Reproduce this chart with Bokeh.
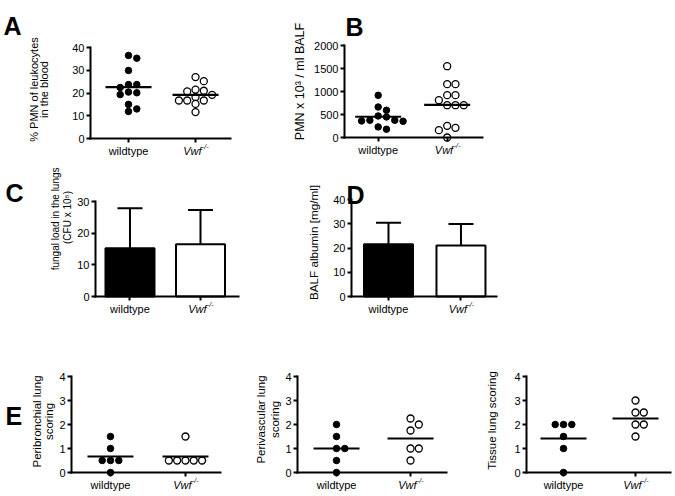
import numpy as np
from bokeh.plotting import figure
from bokeh.models import FixedTicker, Range1d
from bokeh.core.properties import value
from bokeh.layouts import row, column
from bokeh.embed import file_html
from bokeh.resources import INLINE

FONT = "Liberation Sans"

# ---------------- data ----------------
group_names = ["wildtype", "Vwf"]
group_sup = "-/-"

# A: % PMN of leukocytes in the blood
blood_pmn_wt = [36.5, 35.3, 29.9, 23.7, 23.7, 22.4, 20.4, 20.1, 19.3, 15.0, 13.0, 11.9]
blood_pmn_ko = [27.0, 25.2, 21.5, 21.0, 20.7, 19.2, 18.2, 16.7, 16.7, 16.7, 15.2, 11.6]
blood_ticks = [0, 10, 20, 30, 40]

# B: PMN x 10^3 / ml BALF
balf_pmn_wt = [917, 663, 592, 468, 446, 375, 375, 360, 353, 230, 180]
balf_pmn_ko = [1550, 1159, 1159, 920, 920, 811, 702, 702, 702, 253, 210, 159, 0]
balf_ticks = [0, 500, 1000, 1500, 2000]

# C: fungal load (mean, SD)
fungal_mean = [15.2, 16.5]
fungal_sd = [12.7, 10.8]
fungal_ticks = [0, 10, 20, 30]

# D: BALF albumin (mean, SD)
albumin_mean = [21.5, 21.0]
albumin_sd = [8.9, 8.9]
albumin_ticks = [0, 10, 20, 30, 40]

# E: lung scoring
peribronchial_wt = [1.5, 1.0, 0.5, 0.5, 0.5, 0.0]
peribronchial_ko = [1.5, 0.5, 0.5, 0.5, 0.5, 0.5]
perivascular_wt = [2.0, 1.5, 1.0, 1.0, 0.5, 0.0]
perivascular_ko = [2.25, 2.0, 1.75, 1.0, 1.0, 0.5]
tissue_wt = [2.0, 2.0, 2.0, 1.5, 1.0, 0.0]
tissue_ko = [3.0, 2.5, 2.5, 2.0, 2.0, 1.5]
score_ticks = [0, 1, 2, 3, 4]


# ---------------- helpers ----------------
class Geo:
    """Page geometry of one panel (all in page pixels)."""

    def __init__(self, ox, oy, w, h, L, R, T, B, xa, xb, ymax):
        self.ox, self.oy, self.w, self.h = ox, oy, w, h
        self.PL, self.PR, self.PT, self.PB = L - ox, R - ox, T - oy, B - oy
        self.xa, self.xb, self.ymax = xa, xb, ymax
        self.px_x = (self.PR - self.PL) / (xb - xa)
        self.px_y = (self.PB - self.PT) / ymax

    def X(self, sx):  # page x -> data x
        return self.xa + (sx - self.ox - self.PL) / self.px_x

    def Y(self, sy):  # page y -> data y
        return (self.PB - (sy - self.oy)) / self.px_y


def make_fig(g, yticks, titles, letter=None):
    x_start = g.xa - g.PL / g.px_x
    x_end = g.xb + (g.w - g.PR) / g.px_x
    y_start = -(g.h - g.PB) / g.px_y
    y_end = g.ymax + g.PT / g.px_y
    p = figure(width=g.w, height=g.h, x_range=Range1d(x_start, x_end),
               y_range=Range1d(y_start, y_end), output_backend="svg",
               toolbar_location=None, min_border=0)
    p.outline_line_color = None
    p.grid.visible = False
    p.background_fill_color = "white"
    p.border_fill_color = "white"
    for ax in (p.xaxis[0], p.yaxis[0]):
        ax.axis_line_width = 2
        ax.axis_line_color = "black"
        ax.axis_line_cap = "square"
        ax.major_tick_line_width = 2
        ax.major_tick_line_color = "black"
        ax.major_tick_out = 4
        ax.major_tick_in = 0
        ax.minor_tick_line_color = None
    ya = p.yaxis[0]
    ya.ticker = FixedTicker(ticks=yticks)
    ya.fixed_location = g.xa
    ya.bounds = (yticks[0], yticks[-1])
    ya.major_label_text_font = FONT
    ya.major_label_text_font_size = "11px"
    ya.major_label_text_color = "black"
    ya.major_label_standoff = 2
    xa = p.xaxis[0]
    xa.ticker = FixedTicker(ticks=[1, 2])
    xa.fixed_location = yticks[0]
    xa.bounds = (g.xa, g.xb)
    xa.major_label_text_color = None
    xa.major_label_text_font_size = "0px"
    xa.major_label_standoff = 0
    # group names below the x axis
    ab = g.oy + g.PB
    p.text(x=[1], y=[g.Y(ab + 12.5)], text=[group_names[0]], text_font=value(FONT),
           text_font_size="11px", text_align="center", text_baseline="middle",
           text_color="black")
    p.text(x=[2], y=[g.Y(ab + 12.5)], text=[group_names[1]], text_font=value(FONT),
           text_font_size="11px", text_font_style="italic", text_align="right",
           text_baseline="middle", x_offset=6, text_color="black")
    p.text(x=[2], y=[g.Y(ab + 8)], text=[group_sup], text_font=value(FONT),
           text_font_size="7px", text_font_style="italic", text_align="left",
           text_baseline="middle", x_offset=6.5, text_color="black")
    # y-axis title (one glyph per line, rotated)
    for txt, cx, cy, fs in titles:
        p.text(x=[g.X(cx)], y=[g.Y(cy)], text=[txt], angle=np.pi / 2,
               text_font=value(FONT), text_font_size=f"{fs}px",
               text_align="center", text_baseline="middle", text_color="black")
    if letter is not None:
        t, lx, by = letter
        p.text(x=[g.X(lx)], y=[g.Y(by)], text=[t], text_font=value(FONT),
               text_font_size="25px", text_font_style="bold", text_align="left",
               text_baseline="alphabetic", text_color="black")
    return p


def swarm_x(values, center, px_x, px_y, step=8.3, diam=6.6):
    order = sorted(range(len(values)), key=lambda i: -values[i])
    placed = []
    xs = [0.0] * len(values)
    for i in order:
        y = values[i] * px_y
        s = 0
        for s in (0, 1, -1, 2, -2, 3, -3, 4, -4):
            if all(abs(y - py) >= diam or s != ps for ps, py in placed):
                break
        placed.append((s, y))
        xs[i] = center + s * step / px_x
    return xs


def scatter_panel(g, wt, ko, yticks, titles, letter=None):
    p = make_fig(g, yticks, titles, letter)
    for c, vals, filled in ((1, wt, True), (2, ko, False)):
        xs = swarm_x(vals, c, g.px_x, g.px_y)
        if filled:
            p.scatter(xs, vals, size=6.5, marker="circle", fill_color="black",
                      line_color="black", line_width=1)
        else:
            p.scatter(xs, vals, size=7, marker="circle", fill_color="white",
                      line_color="black", line_width=1.3)
        m = float(np.mean(vals))
        hw = 23 / g.px_x
        p.segment(x0=[c - hw], y0=[m], x1=[c + hw], y1=[m],
                  line_color="black", line_width=2.2)
    return p


def bar_panel(g, means, sds, yticks, titles, letter=None):
    p = make_fig(g, yticks, titles, letter)
    xs = [1, 2]
    bw = 49 / g.px_x
    cap = 12.5 / g.px_x
    tops = [m + s for m, s in zip(means, sds)]
    p.segment(x0=xs, y0=means, x1=xs, y1=tops, line_color="black", line_width=2)
    p.segment(x0=[x - cap for x in xs], y0=tops, x1=[x + cap for x in xs], y1=tops,
              line_color="black", line_width=2)
    p.vbar(x=xs, top=means, bottom=0, width=bw, fill_color=["black", "white"],
           line_color="black", line_width=2)
    return p


# ---------------- layout geometry (page pixels) ----------------
# Geo(fig_x, fig_y, fig_w, fig_h, plot_left, plot_right, plot_top, plot_bottom, x_lo, x_hi, y_max)
gA = Geo(0, 0, 285, 160, 90, 230, 47, 138, 0.433, 2.522, blood_ticks[-1])
gB = Geo(285, 0, 390, 160, 344, 482, 45, 137, 0.512, 2.512, balf_ticks[-1])
gC = Geo(0, 160, 300, 185, 95, 238, 201, 296, 0.511, 2.539, fungal_ticks[-1])
gD = Geo(300, 160, 375, 185, 351, 496, 199, 296, 0.490, 2.490, albumin_ticks[-1])
gE1 = Geo(0, 345, 240, 151, 71, 220, 376, 472, 0.480, 2.467, score_ticks[-1])
gE2 = Geo(240, 345, 230, 151, 297, 446, 376, 472, 0.473, 2.486, score_ticks[-1])
gE3 = Geo(470, 345, 205, 151, 526, 670, 376, 472, 0.486, 2.486, score_ticks[-1])

pA = scatter_panel(gA, blood_pmn_wt, blood_pmn_ko, blood_ticks,
                   [("% PMN of leukocytes", 33.8, 89, 11), ("in the blood", 43, 89, 11)],
                   ("A", 3, 25))
pB = scatter_panel(gB, balf_pmn_wt, balf_pmn_ko, balf_ticks,
                   [("PMN x 10\u00b3 / ml BALF", 299, 81, 12.5)],
                   ("B", 345, 26))
pC = bar_panel(gC, fungal_mean, fungal_sd, fungal_ticks,
               [("fungal load  in the lungs", 55, 217, 10),
                ("(CFU x 10\u2075)", 66.7, 217, 10)],
               ("C", 5, 192))
pD = bar_panel(gD, albumin_mean, albumin_sd, albumin_ticks,
               [("BALF albumin [mg/ml]", 313, 242, 11.7)],
               ("D", 346, 194))
pE1 = scatter_panel(gE1, peribronchial_wt, peribronchial_ko, score_ticks,
                    [("Peribronchial lung", 36.7, 421, 11.5), ("scoring", 48.3, 421, 11.5)],
                    ("E", 5, 415))
pE2 = scatter_panel(gE2, perivascular_wt, perivascular_ko, score_ticks,
                    [("Perivascular lung", 260.8, 419, 11.5), ("scoring", 274.2, 419, 11.5)])
pE3 = scatter_panel(gE3, tissue_wt, tissue_ko, score_ticks,
                    [("Tissue lung scoring", 491, 420, 11.5)])

layout = column(row(pA, pB), row(pC, pD), row(pE1, pE2, pE3))

open("out.html", "w").write(file_html(layout, INLINE))
